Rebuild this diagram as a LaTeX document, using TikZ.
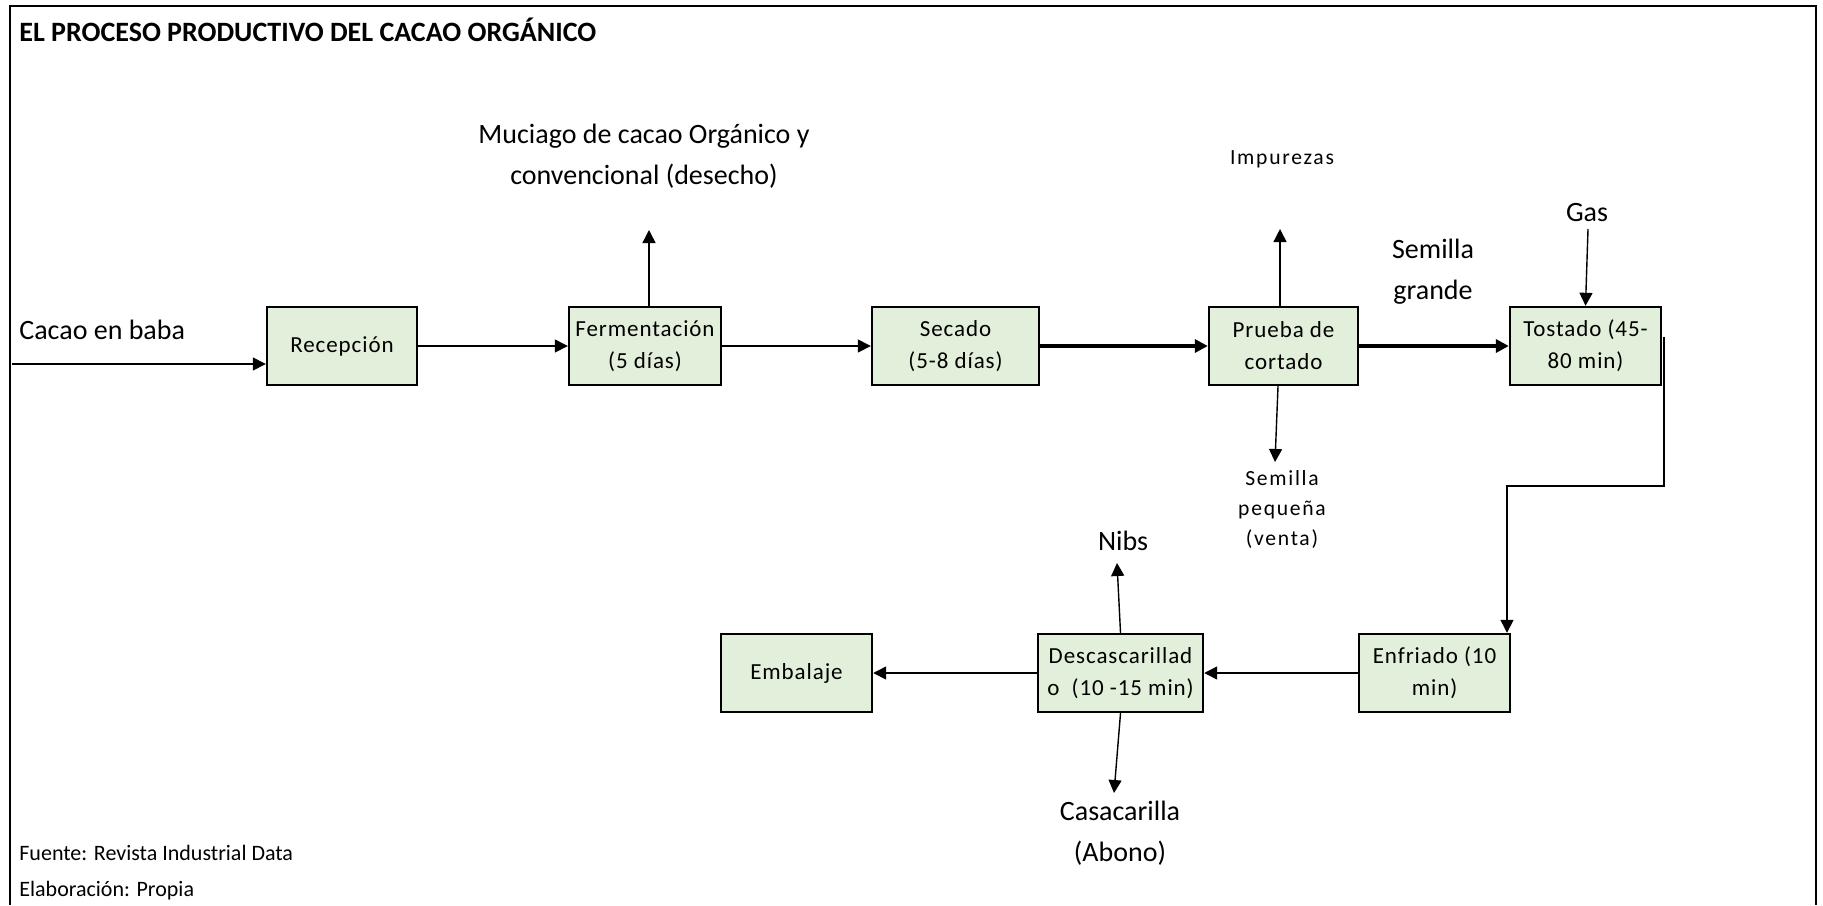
\documentclass[tikz,border=0pt]{standalone}
\usepackage{fontspec}
\setmainfont{Carlito}
\newfontfamily\boxfont[LetterSpace=4]{Carlito}
\newfontfamily\widefont[LetterSpace=8]{Carlito}
\usetikzlibrary{arrows.meta}
\definecolor{boxgreen}{RGB}{226,239,218}
\tikzset{
	stage/.style={draw, line width=1.2pt, fill=boxgreen, minimum height=39pt, align=center, inner sep=1pt, font=\boxfont\fontsize{11.5}{16}\selectfont},
	flow/.style={-{Triangle[length=6.5pt,width=6.5pt]}, line width=0.7pt},
	bigflow/.style={flow, line width=1.8pt},
	biglabel/.style={align=center, inner sep=0pt, font=\fontsize{14}{20.5}\selectfont},
	smalllabel/.style={align=center, inner sep=0pt, font=\widefont\fontsize{10.8}{15}\selectfont},
	footer/.style={anchor=west, inner sep=0pt, font=\fontsize{11}{13}\selectfont}
}
\begin{document}
\begin{tikzpicture}[x=0.5pt,y=-0.5pt]
				\useasboundingbox (0,0) rectangle (1823,905);
				% frame
				\draw[line width=1.2pt] (10,905) -- (10,6) -- (1816,6) -- (1816,905);
				\node[anchor=west, inner sep=0pt, font=\bfseries\fontsize{14}{17}\selectfont] (title) at (19,30) {EL PROCESO PRODUCTIVO DEL CACAO ORGÁNICO};
				% stages
				\node[stage, minimum width=75pt] (rec) at (342,346) {Recepción};
				\node[stage, minimum width=76pt] (fer) at (645,346) {Fermentación\\(5 días)};
				\node[stage, minimum width=83.5pt] (sec) at (955.5,346) {Secado\\(5-8 días)};
				\node[stage, minimum width=74.5pt] (pru) at (1283.5,346) {Prueba de\\cortado};
				\node[stage, minimum width=75.5pt] (tos) at (1585.5,346) {Tostado (45-\\80 min)};
				\node[stage, minimum width=75.5pt] (enf) at (1434.5,673) {Enfriado (10\\min)};
				\node[stage, minimum width=82.5pt] (des) at (1120.5,673) {Descascarillad\\o\ \ (10 -15 min)};
				\node[stage, minimum width=75.5pt] (emb) at (796.5,673) {Embalaje};
				% labels
				\node[biglabel, anchor=west] (cacao) at (19,330) {Cacao en baba};
				\node[biglabel] (muc) at (644,156) {Muciago de cacao Orgánico y\\convencional (desecho)};
				\node[smalllabel] (imp) at (1282,159) {Impurezas};
				\node[biglabel] (grande) at (1433,272) {Semilla\\grande};
				\node[biglabel] (gas) at (1587,213) {Gas};
				\node[smalllabel] (peque) at (1282,509) {Semilla\\pequeña\\(venta)};
				\node[biglabel] (nibs) at (1123,541) {Nibs};
				\node[biglabel] (casc) at (1120,833) {Casacarilla\\(Abono)};
				\node[footer] (fuente) at (19,853) {Fuente: Revista Industrial Data};
				\node[footer] (elab) at (19,891) {Elaboración: Propia};
				% free ends
				\coordinate (in) at (12,364);
				\coordinate (mucT) at (649,230);
				\coordinate (impT) at (1280,229);
				\coordinate (pequeT) at (1275,462);
				\coordinate (gasS) at (1588,229);
				\coordinate (tosR) at (1664,337);
				\coordinate (bend) at (1507,486);
				\coordinate (nibsT) at (1117,563);
				\coordinate (cascT) at (1114,793);
				% connectors
				\draw[flow] (in) -- (in -| rec.west);
				\draw[flow] (rec.east) -- (fer.west);
				\draw[flow] (fer.east) -- (sec.west);
				\draw[bigflow] (sec.east) -- (pru.west);
				\draw[bigflow] (pru.east) -- (tos.west);
				\draw[flow] (mucT |- fer.north) -- (mucT);
				\draw[flow] (impT |- pru.north) -- (impT);
				\draw[flow] ([xshift=-2.75pt]pru.south) -- (pequeT);
				\draw[flow] (gasS) -- (tos.north);
				\draw[flow] (tosR) |- (bend) -- (bend |- enf.north);
				\draw[flow] (enf.west) -- (des.east);
				\draw[flow] (des.west) -- (emb.east);
				\draw[flow] (des.north) -- (nibsT);
				\draw[flow] (des.south) -- (cascT);
\end{tikzpicture}
\end{document}
